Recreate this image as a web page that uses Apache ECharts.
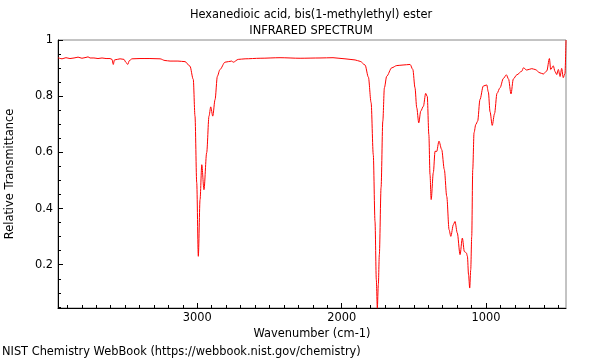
<!DOCTYPE html>
<html>
<head>
<meta charset="utf-8">
<script src="https://cdn.jsdelivr.net/npm/echarts@6/dist/echarts.min.js"></script>
<style>html,body{margin:0;padding:0;background:#fff}#c{width:600px;height:360px}</style>
</head>
<body>
<div id="c"></div>
<script>
// Wavenumber (cm-1)
var wavenumbers = [3965,3937,3910,3882,3854,3826,3799,3771,3757,3743,3716,3688,3660,3632,3605,
  3591,3582,3574,3535,3508,3494,3482,3470,3452,3397,3328,3258,3224,3189,3134,3085,3051,3028,3016,3004,2993,
  2981,2969,2954,2935,2919,2907,2893,2877,2861,2843,2808,2762,2751,2716,2669,2565,2427,2288,2150,2060,1977,
  1907,1872,1838,1815,1796,1781,1769,1760,1753,1746,1739,1727,1715,1704,1688,1653,1618,1575,1526,1507,1492,
  1480,1466,1452,1434,1418,1407,1396,1388,1380,1365,1353,1342,1326,1307,1289,1272,1256,1244,1226,1215,1199,
  1180,1164,1150,1136,1129,1121,1113,1106,1099,1092,1083,1071,1058,1042,1019,995,984,972,957,941,924,903,880,
  859,844,827,811,787,752,741,718,683,660,626,603,579,561,552,534,522,510,499,487,476,465,453,446];
// Relative transmittance
var transmittance = [0.937,0.933,0.937,0.934,0.936,0.939,0.935,0.938,0.940,0.936,0.936,0.934,0.936,0.934,0.934,
  0.931,0.913,0.929,0.933,0.931,0.920,0.913,0.927,0.933,0.934,0.934,0.933,0.927,0.925,0.925,0.923,0.907,0.860,0.729,0.492,0.230,
  0.432,0.556,0.467,0.599,0.729,0.762,0.729,0.788,0.871,0.895,0.921,0.925,0.921,0.931,0.933,0.935,0.937,0.935,0.936,0.937,0.933,
  0.929,0.924,0.911,0.868,0.777,0.592,0.354,0.147,0.045,0.129,0.236,0.475,0.711,0.830,0.871,0.901,0.909,0.911,0.913,0.895,0.830,
  0.759,0.705,0.747,0.764,0.810,0.799,0.663,0.521,0.432,0.528,0.604,0.603,0.640,0.610,0.539,0.443,0.325,0.301,0.343,0.354,0.313,
  0.236,0.295,0.247,0.242,0.230,0.164,0.117,0.182,0.301,0.539,0.670,0.699,0.711,0.788,0.836,0.840,0.815,0.744,0.696,0.738,0.810,0.830,0.863,
  0.876,0.861,0.808,0.861,0.876,0.889,0.901,0.893,0.898,0.895,0.883,0.879,0.890,0.934,0.895,0.908,0.888,0.877,0.895,0.870,0.899,0.866,0.881,1.0];
var xMajorTicks = [1000, 2000, 3000];
var yMajorTicks = [0.2, 0.4, 0.6, 0.8, 1];
var xMinorTicks = [];
for (var v = 500; v <= 3900; v += 100) xMinorTicks.push(v);
var yMinorTicks = [];
for (var k = 1; k <= 20; k++) yMinorTicks.push(+(k * 0.05).toFixed(2));

var points = wavenumbers.map(function (w, i) { return [w, transmittance[i]]; });
var FONT = 'DejaVu Sans';
var FS = 11.4;
var fontStr = FS + 'px "DejaVu Sans"';
var chart = echarts.init(document.getElementById('c'), null, {renderer: 'canvas'});
var xBase = {type: 'value', inverse: true, min: 446, max: 3965, position: 'bottom', splitLine: {show: false}};
var yBase = {type: 'value', min: 0.046, max: 1, position: 'left', splitLine: {show: false}};
chart.setOption({
  animation: false,
  textStyle: {fontFamily: FONT},
  grid: {left: 58, right: 34, top: 40, bottom: 52, show: true, borderColor: '#888', borderWidth: 1,
         backgroundColor: 'transparent', containLabel: false, outerBoundsMode: 'none'},
  graphic: [
    {type: 'text', style: {text: 'Hexanedioic acid, bis(1-methylethyl) ester', font: fontStr, fill: '#000', x: 311, y: 10, align: 'center'}},
    {type: 'text', style: {text: 'INFRARED SPECTRUM', font: fontStr, fill: '#000', x: 311, y: 26, align: 'center'}},
    {type: 'text', style: {text: 'NIST Chemistry WebBook (https://webbook.nist.gov/chemistry)', font: fontStr, fill: '#000', x: 2, y: 347}}
  ],
  xAxis: [
    Object.assign({}, xBase, {
      name: 'Wavenumber (cm-1)', nameLocation: 'middle', nameGap: 17,
      nameTextStyle: {fontFamily: FONT, fontSize: FS, color: '#000', verticalAlign: 'top'},
      axisLine: {show: true, lineStyle: {color: '#000', width: 1}},
      axisTick: {show: true, inside: true, length: 5, customValues: xMajorTicks, lineStyle: {color: '#000'}},
      axisLabel: {show: true, customValues: xMajorTicks, margin: 5, fontFamily: FONT, fontSize: FS, color: '#000',
                  formatter: function (val) { return String(val); }}
    }),
    Object.assign({}, xBase, {
      axisLine: {show: false},
      axisTick: {show: true, inside: true, length: 3, customValues: xMinorTicks, lineStyle: {color: '#000'}},
      axisLabel: {show: false}
    })
  ],
  yAxis: [
    Object.assign({}, yBase, {
      name: 'Relative Transmittance', nameLocation: 'middle', nameGap: 42,
      nameTextStyle: {fontFamily: FONT, fontSize: FS, color: '#000'},
      axisLine: {show: true, lineStyle: {color: '#000', width: 1}},
      axisTick: {show: true, inside: true, length: 5, customValues: yMajorTicks, lineStyle: {color: '#000'}},
      axisLabel: {show: true, customValues: yMajorTicks, margin: 5, fontFamily: FONT, fontSize: FS, color: '#000',
                  formatter: function (val) { return String(val); }}
    }),
    Object.assign({}, yBase, {
      axisLine: {show: false},
      axisTick: {show: true, inside: true, length: 3, customValues: yMinorTicks, lineStyle: {color: '#000'}},
      axisLabel: {show: false}
    })
  ],
  series: [{
    type: 'line', xAxisIndex: 0, yAxisIndex: 0, data: points, showSymbol: false,
    smooth: 0.3, smoothMonotone: 'x', clip: true,
    lineStyle: {color: '#ff0000', width: 1}
  }]
});
</script>
</body>
</html>
